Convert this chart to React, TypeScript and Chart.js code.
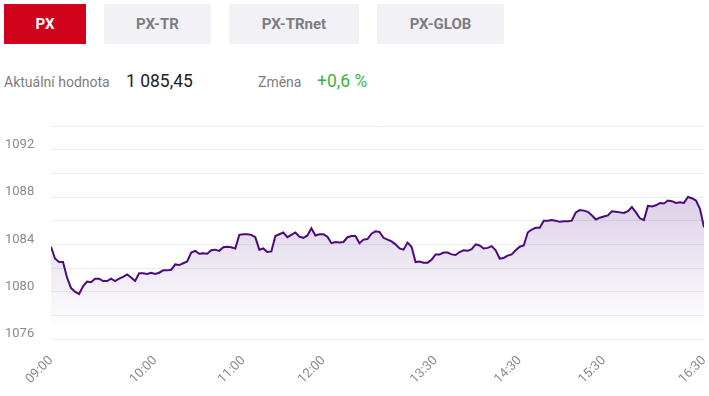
import React, { useEffect, useRef } from "react";
import { Chart, registerables } from "chart.js";

Chart.register(...registerables);

const tabs = ["PX", "PX-TR", "PX-TRnet", "PX-GLOB"];
const currentLabel = "Aktuální hodnota";
const currentValue = "1 085,45";
const changeLabel = "Změna";
const changeValue = "+0,6 %";

const tickIndex = [0, 26, 48, 68, 96, 117, 138, 163];
const tickLabels = ["09:00", "10:00", "11:00", "12:00", "13:30", "14:30", "15:30", "16:30"];

const values = [
  1083.8, 1082.8, 1082.5, 1082.5, 1081.2, 1080.3, 1080.0, 1079.8, 1080.45, 1080.85,
  1080.8, 1081.1, 1081.1, 1080.9, 1080.9, 1081.1, 1080.9, 1081.1, 1081.25, 1081.45,
  1081.2, 1080.9, 1081.55, 1081.55, 1081.5, 1081.6, 1081.5, 1081.6, 1081.8, 1081.8,
  1081.85, 1082.3, 1082.25, 1082.4, 1082.55, 1083.3, 1083.45, 1083.2, 1083.25, 1083.2,
  1083.5, 1083.55, 1083.45, 1083.75, 1083.8, 1083.75, 1083.65, 1084.8, 1084.85, 1084.85,
  1084.8, 1084.6, 1083.55, 1083.65, 1083.35, 1083.4, 1084.7, 1084.85, 1085.0, 1084.6,
  1084.8, 1085.0, 1084.65, 1084.55, 1084.75, 1085.35, 1084.75, 1084.85, 1084.85, 1084.65,
  1084.1, 1084.2, 1084.15, 1084.2, 1084.6, 1084.7, 1084.7, 1084.1, 1084.4, 1084.45,
  1084.9, 1085.1, 1085.05, 1084.55, 1084.4, 1084.25, 1084.0, 1083.65, 1083.55, 1084.15,
  1083.8, 1082.5, 1082.55, 1082.45, 1082.45, 1082.7, 1083.15, 1083.15, 1083.3, 1083.3,
  1083.15, 1083.1, 1083.35, 1083.5, 1083.45, 1083.6, 1084.0, 1083.9, 1083.65, 1083.7,
  1083.85, 1083.5, 1082.8, 1082.85, 1083.05, 1083.15, 1083.5, 1083.8, 1083.9, 1085.0,
  1085.25, 1085.4, 1085.4, 1086.0, 1086.0, 1086.05, 1086.0, 1085.9, 1085.95, 1085.95,
  1086.0, 1086.7, 1086.9, 1086.85, 1086.75, 1086.45, 1086.1, 1086.25, 1086.35, 1086.45,
  1086.8, 1086.75, 1086.7, 1086.65, 1086.8, 1087.15, 1086.7, 1086.2, 1086.05, 1087.25,
  1087.2, 1087.3, 1087.5, 1087.45, 1087.7, 1087.65, 1087.5, 1087.55, 1087.5, 1088.0,
  1087.9, 1087.7, 1087.0, 1085.45,
];

const yMin = 1076;
const yMax = 1094;
const yStep = 2;

const FONT = "Roboto, 'Noto Sans', sans-serif";

export default function App() {
  const ref = useRef<HTMLCanvasElement | null>(null);

  useEffect(() => {
    if (!ref.current) return;
    const data = values.map((v, i) => ({ x: i, y: v }));
    const chart = new Chart(ref.current, {
      type: "line",
      data: {
        datasets: [
          {
            data,
            borderColor: "#4b0b7c",
            borderWidth: 2,
            pointRadius: 0,
            tension: 0,
            fill: "start",
            backgroundColor: (ctx: any) => {
              const c = ctx.chart;
              const area = c.chartArea;
              if (!area) return "rgba(90,30,140,0.15)";
              const g = c.ctx.createLinearGradient(0, area.top + 60, 0, area.bottom - 10);
              g.addColorStop(0, "rgba(95,40,145,0.24)");
              g.addColorStop(1, "rgba(95,40,145,0.0)");
              return g;
            },
          },
        ],
      },
      options: {
        animation: false,
        responsive: true,
        maintainAspectRatio: false,
        layout: { padding: { left: 5, right: 5, top: 26, bottom: 0 } },
        plugins: { legend: { display: false }, tooltip: { enabled: false } },
        scales: {
          x: {
            type: "linear",
            min: 0,
            max: values.length - 1,
            grid: { display: false },
            border: { display: false },
            afterBuildTicks: (scale: any) => {
              scale.ticks = tickIndex.map((v) => ({ value: v }));
            },
            afterFit: (scale: any) => {
              scale.height = 57;
              scale.paddingLeft = 0;
              scale.paddingRight = 0;
            },
            ticks: {
              autoSkip: false,
              minRotation: 45,
              maxRotation: 45,
              padding: 6,
              color: "#8a8a8f",
              font: { family: FONT, size: 13 },
              callback: (v: any) => {
                const k = tickIndex.indexOf(Number(v));
                return k >= 0 ? tickLabels[k] : "";
              },
            },
          },
          y: {
            min: yMin,
            max: yMax,
            border: { display: false },
            grid: { color: "#ececf1", drawTicks: false, lineWidth: 1 },
            afterFit: (scale: any) => {
              scale.width = 46;
              scale.paddingTop = 0;
              scale.paddingBottom = 0;
            },
            ticks: {
              stepSize: yStep,
              crossAlign: "far",
              labelOffset: -5,
              color: "#8a8a8f",
              font: { family: FONT, size: 13 },
              callback: (v: any) => (Number(v) % 4 === 0 ? String(v) : ""),
            },
          },
        },
      },
    } as any);
    return () => chart.destroy();
  }, []);

  const tabX = [4, 104, 229, 377];
  const tabW = [82, 107, 130, 127];

  return (
    <div
      style={{
        position: "absolute",
        left: 0,
        top: 0,
        width: 709,
        height: 396,
        background: "#fff",
        fontFamily: FONT,
        overflow: "hidden",
      }}
    >
      {tabs.map((t, i) => (
        <div
          key={t}
          style={{
            position: "absolute",
            left: tabX[i],
            top: 4,
            width: tabW[i],
            height: 40,
            background: i === 0 ? "#d0021b" : "#f2f2f6",
            color: i === 0 ? "#fff" : "#7b7d82",
            fontWeight: 700,
            fontSize: 15,
            lineHeight: "40px",
            textAlign: "center",
          }}
        >
          {t}
        </div>
      ))}
      <div style={{ position: "absolute", left: 4, top: 72, fontSize: 14, color: "#7b7d82", lineHeight: "20px" }}>
        {currentLabel}
      </div>
      <div style={{ position: "absolute", left: 126, top: 70, fontSize: 17.5, color: "#222", lineHeight: "22px" }}>
        {currentValue}
      </div>
      <div style={{ position: "absolute", left: 258, top: 72, fontSize: 14, color: "#7b7d82", lineHeight: "20px" }}>
        {changeLabel}
      </div>
      <div style={{ position: "absolute", left: 317, top: 70, fontSize: 17.5, color: "#3cb43c", lineHeight: "22px" }}>
        {changeValue}
      </div>
      <div style={{ position: "absolute", left: 0, top: 100, width: 709, height: 296 }}>
        <canvas ref={ref} />
      </div>
    </div>
  );
}
